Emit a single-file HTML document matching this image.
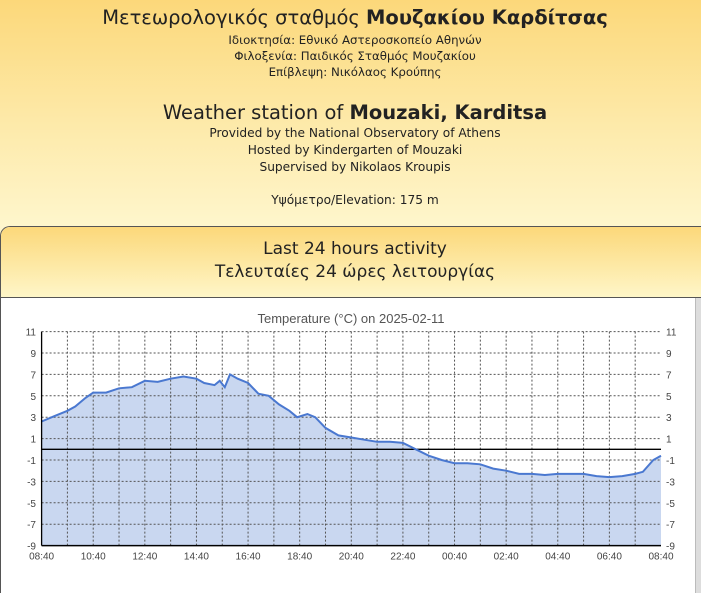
<!DOCTYPE html>
<html><head><meta charset="utf-8"><style>
html,body{margin:0;padding:0;width:701px;height:593px;overflow:hidden}
body{background:linear-gradient(#fcd87a 0px,#fde9a8 120px,#fef6cc 226px);font-family:"DejaVu Sans","Liberation Sans",sans-serif;color:#222;position:relative}
.l{position:absolute;left:0;width:710px;text-align:center;white-space:nowrap}
.s{font-size:11.8px}
.m{font-size:12.2px}
.card{position:absolute;left:0;top:226px;width:720px;height:366px;border:1px solid #555;border-bottom:none;border-radius:10px 10px 0 0;background:#fff;overflow:hidden}
.ch{height:70px;background:linear-gradient(#fcd87a,#fef6c8);border-bottom:1px solid #555}
.sb{position:absolute;left:695px;top:298px;width:6px;height:295px;background:#ddd;border-left:1px solid #bbb}
</style></head><body>
<div class="l" style="top:6px;font-size:19.5px">Μετεωρολογικός σταθμός <b>Μουζακίου Καρδίτσας</b></div>
<div class="l s" style="top:33px">Ιδιοκτησία: Εθνικό Αστεροσκοπείο Αθηνών</div>
<div class="l s" style="top:49px">Φιλοξενία: Παιδικός Σταθμός Μουζακίου</div>
<div class="l s" style="top:65px">Επίβλεψη: Νικόλαος Κρούπης</div>
<div class="l" style="top:101px;font-size:19.5px">Weather station of <b>Mouzaki, Karditsa</b></div>
<div class="l m" style="top:126px">Provided by the National Observatory of Athens</div>
<div class="l m" style="top:143px">Hosted by Kindergarten of Mouzaki</div>
<div class="l m" style="top:160px">Supervised by Nikolaos Kroupis</div>
<div class="l m" style="top:193px">Υψόμετρο/Elevation: 175 m</div>
<div class="card"><div class="ch"></div></div>
<div class="l" style="top:239px;font-size:17px">Last 24 hours activity</div>
<div class="l" style="top:262px;font-size:17px">Τελευταίες 24 ώρες λειτουργίας</div>
<div class="sb"></div>
<svg id="c" width="701" height="593" style="position:absolute;left:0;top:0" font-family="Liberation Sans,Arial,sans-serif"></svg>
<script>
var X0=41.6,X1=661,Y=function(t){return 449.3-t*10.7},H=(X1-X0)/24;
var s='<text x="351" y="323" font-size="13" fill="#555" text-anchor="middle">Temperature (°C) on 2025-02-11</text>';
var d=[[0,2.6],[0.5,3.1],[1,3.6],[1.3,4.0],[1.7,4.8],[2,5.3],[2.5,5.3],[3,5.7],[3.5,5.8],[4,6.4],[4.5,6.3],[5,6.6],[5.5,6.8],[6,6.6],[6.3,6.2],[6.7,6.0],[6.9,6.4],[7.1,5.8],[7.3,7.0],[7.6,6.6],[8,6.2],[8.4,5.2],[8.8,5.0],[9.2,4.2],[9.6,3.6],[9.9,3.0],[10.3,3.3],[10.6,3.0],[11,2.0],[11.5,1.3],[12,1.1],[12.5,0.9],[13,0.7],[13.5,0.7],[14,0.6],[14.5,0.0],[15,-0.6],[15.5,-1.0],[16,-1.3],[16.5,-1.3],[17,-1.4],[17.5,-1.8],[18,-2.0],[18.5,-2.3],[19,-2.3],[19.5,-2.4],[20,-2.3],[21,-2.3],[21.5,-2.5],[22,-2.6],[22.5,-2.5],[23,-2.3],[23.3,-2.1],[23.7,-1.0],[24,-0.6]];
var p=d.map(function(a){return (X0+a[0]*H).toFixed(1)+','+Y(a[1]).toFixed(1)}).join(' L');
s+='<path d="M'+X0+','+Y(-9)+' L'+p+' L'+X1+','+Y(-9)+'Z" fill="#c9d7f0"/>';
for(var i=1;i<24;i++){var x=X0+i*H;s+='<line x1="'+x+'" y1="'+Y(11)+'" x2="'+x+'" y2="'+Y(-9)+'" stroke="#555" stroke-dasharray="2,2" stroke-width="1"/>';}
for(var t=-7;t<=11;t+=2){s+='<line x1="'+X0+'" y1="'+Y(t)+'" x2="'+X1+'" y2="'+Y(t)+'" stroke="#555" stroke-dasharray="2,2" stroke-width="1"/>';}
for(var t=-9;t<=11;t+=2){s+='<text x="36" y="'+(Y(t)+4)+'" font-size="10" fill="#444" text-anchor="end">'+t+'</text><text x="666" y="'+(Y(t)+4)+'" font-size="10" fill="#444">'+t+'</text>';}
s+='<line x1="'+X0+'" y1="'+Y(0)+'" x2="'+X1+'" y2="'+Y(0)+'" stroke="#000" stroke-width="1.3"/>';
s+='<path d="M'+p+'" fill="none" stroke="#4a78d0" stroke-width="2"/>';
s+='<line x1="'+X0+'" y1="'+Y(11)+'" x2="'+X0+'" y2="'+Y(-9)+'" stroke="#000" stroke-width="1.3"/>';
s+='<line x1="'+X0+'" y1="'+Y(-9)+'" x2="'+X1+'" y2="'+Y(-9)+'" stroke="#000" stroke-width="1.5"/>';
var lab=['08:40','10:40','12:40','14:40','16:40','18:40','20:40','22:40','00:40','02:40','04:40','06:40','08:40'];
for(var i=0;i<13;i++){s+='<text x="'+(X0+i*2*H)+'" y="'+(Y(-9)+14)+'" font-size="10" fill="#444" text-anchor="middle">'+lab[i]+'</text>';}
document.getElementById('c').innerHTML=s;
</script>
</body></html>
